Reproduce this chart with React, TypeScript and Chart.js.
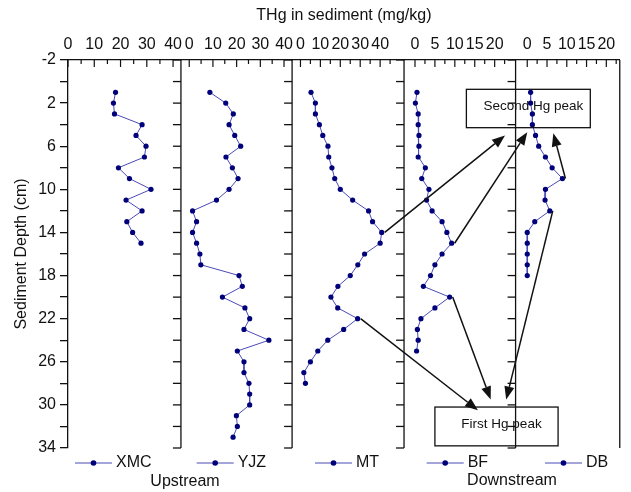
import React, { useEffect, useRef } from 'react';
import { Chart, registerables } from 'chart.js';

Chart.register(...registerables);

// ---------------- data (THg, mg/kg, vs sediment depth, cm) ----------------
const xmcDepth = [1, 2, 3, 4, 5, 6, 7, 8, 9, 10, 11, 12, 13, 14, 15];
const xmcValue = [18.1, 17.3, 17.7, 28.2, 25.9, 29.7, 29.1, 19.2, 23.4, 31.6, 22.1, 28.2, 22.4, 24.6, 27.8];

const yjzDepth = [1, 2, 3, 4, 5, 6, 7, 8, 9, 10, 11, 12, 13, 14, 15, 16, 17, 18, 19, 20, 21, 22, 23, 24, 25, 26, 27, 28, 29, 30, 31, 32, 33];
const yjzValue = [8.7, 15.4, 18.6, 16.8, 19.2, 21.7, 15.5, 18.2, 20.6, 16.8, 11.5, 1.4, 3.1, 1.4, 3.1, 4.5, 4.9, 21.0, 22.4, 14.0, 23.5, 25.5, 23.1, 33.6, 20.3, 23.1, 23.1, 25.2, 25.5, 25.5, 19.9, 20.3, 18.5];

const mtDepth = [1, 2, 3, 4, 5, 6, 7, 8, 9, 10, 11, 12, 13, 14, 15, 16, 17, 18, 19, 20, 21, 22, 23, 24, 25, 26, 27, 28];
const mtValue = [5.3, 7.5, 7.5, 9.5, 11.2, 13.8, 14.2, 15.8, 17.2, 20.0, 26.2, 34.2, 36.2, 40.8, 40.0, 32.2, 28.8, 25.0, 18.8, 15.3, 18.7, 28.7, 21.7, 13.7, 8.7, 5.0, 1.7, 2.5];

const bfDepth = [1, 2, 3, 4, 5, 6, 7, 8, 9, 10, 11, 12, 13, 14, 15, 16, 17, 18, 19, 20, 21, 22, 23, 24, 25];
const bfValue = [0.5, 0.1, 0.8, 0.8, 1.0, 1.0, 0.8, 2.6, 1.7, 3.5, 2.9, 4.3, 6.8, 8.0, 9.2, 6.8, 5.0, 3.9, 2.1, 8.7, 5.0, 1.5, 0.6, 0.8, 0.4];

const dbDepth = [1, 2, 3, 4, 5, 6, 7, 8, 9, 10, 11, 12, 13, 14, 15, 16, 17, 18];
const dbValue = [0.85, 0.85, 1.3, 1.3, 2.1, 2.9, 4.6, 6.3, 8.9, 4.6, 4.5, 5.7, 1.9, 0.0, 0.0, 0.0, 0.0, 0.0];

const siteNames = ['XMC', 'YJZ', 'MT', 'BF', 'DB'];
const siteDepths = [xmcDepth, yjzDepth, mtDepth, bfDepth, dbDepth];
const siteValues = [xmcValue, yjzValue, mtValue, bfValue, dbValue];

// ---------------- axes ----------------
const panelIds = ['x1', 'x2', 'x3', 'x4', 'x5'];
const panelMin = [0, -3.5, -4.2, -2.75, -2.95];
const panelMax = [43, 43.4, 52, 25.25, 23.4];
const panelWeight = [113.4, 111.6, 112.4, 112, 104.6];

const ticks40 = [0, 5, 10, 15, 20, 25, 30, 35, 40];
const labels40 = [0, 10, 20, 30, 40];
const ticks45 = [0, 5, 10, 15, 20, 25, 30, 35, 40, 45];
const ticks20 = [0, 2.5, 5, 7.5, 10, 12.5, 15, 17.5, 20, 22.5];
const labels20 = [0, 5, 10, 15, 20];
const panelTicks = [ticks40, ticks40, ticks45, ticks20, ticks20];
const panelLabels = [labels40, labels40, labels40, labels20, labels20];

const depthTicks = [-2, 0, 2, 4, 6, 8, 10, 12, 14, 16, 18, 20, 22, 24, 26, 28, 30, 32, 34];
const depthLabels = [-2, 2, 6, 10, 14, 18, 22, 26, 30, 34];

// ---------------- annotations (data units) ----------------
const peakBoxes = [
  { text: 'Second Hg peak', left: ['x4', 12.9], right: ['x5', 15.95], topDepth: 0.72, bottomDepth: 4.28 },
  { text: 'First Hg peak', left: ['x4', 5.0], right: ['x5', 7.8], topDepth: 30.2, bottomDepth: 33.8 },
];
const peakArrows = [
  { site: 2, depth: 14, toScale: 'x4', toValue: 22.6, toDepth: 5.0 },
  { site: 3, depth: 15, toScale: 'x5', toValue: 0.0, toDepth: 4.7 },
  { site: 4, depth: 9, toScale: 'x5', toValue: 6.6, toDepth: 4.8 },
  { site: 2, depth: 22, toScale: 'x4', toValue: 15.8, toDepth: 30.5 },
  { site: 3, depth: 20, toScale: 'x4', toValue: 19.0, toDepth: 29.5 },
  { site: 4, depth: 12, toScale: 'x4', toValue: 22.9, toDepth: 29.5 },
];

// ---------------- styles ----------------
const INK = '#111111';
const LINE = '#4a4ab8';
const DOT = '#00007a';
const FONT = '"Liberation Sans", Arial, Helvetica, sans-serif';
const legendStart = [75, 196.7, 315, 426.7, 545];
const legendY = 463;

Chart.defaults.font.family = FONT;
Chart.defaults.color = INK;

function drawArrow(ctx: CanvasRenderingContext2D, x0: number, y0: number, x1: number, y1: number) {
  const ang = Math.atan2(y1 - y0, x1 - x0);
  const headLen = 13;
  const headW = 5;
  const bx = x1 - headLen * Math.cos(ang);
  const by = y1 - headLen * Math.sin(ang);
  ctx.beginPath();
  ctx.moveTo(x0, y0);
  ctx.lineTo(bx, by);
  ctx.stroke();
  ctx.beginPath();
  ctx.moveTo(x1, y1);
  ctx.lineTo(bx + headW * Math.sin(ang), by - headW * Math.cos(ang));
  ctx.lineTo(bx - headW * Math.sin(ang), by + headW * Math.cos(ang));
  ctx.closePath();
  ctx.fill();
}

const panelPlugin = {
  id: 'panelDecor',
  afterDraw(chart: any) {
    const ctx: CanvasRenderingContext2D = chart.ctx;
    const { top, bottom } = chart.chartArea;
    const yS = chart.scales.y;
    const line = (a: number, b: number, c: number, d: number) => {
      ctx.beginPath();
      ctx.moveTo(a, b);
      ctx.lineTo(c, d);
      ctx.stroke();
    };
    ctx.save();

    // peak boxes
    ctx.strokeStyle = INK;
    ctx.fillStyle = INK;
    ctx.lineWidth = 1.3;
    peakBoxes.forEach((b) => {
      const x0 = chart.scales[b.left[0] as string].getPixelForValue(b.left[1]);
      const x1 = chart.scales[b.right[0] as string].getPixelForValue(b.right[1]);
      const y0 = yS.getPixelForValue(b.topDepth);
      const y1 = yS.getPixelForValue(b.bottomDepth);
      ctx.strokeRect(x0, y0, x1 - x0, y1 - y0);
      ctx.font = '13.5px ' + FONT;
      ctx.textAlign = 'center';
      ctx.textBaseline = 'middle';
      ctx.fillText(b.text, (x0 + x1) / 2 + 5, (y0 + y1) / 2 - 2.5);
    });

    // arrows
    ctx.lineWidth = 1.5;
    peakArrows.forEach((a) => {
      const idx = siteDepths[a.site].indexOf(a.depth);
      const fx = chart.scales[panelIds[a.site]].getPixelForValue(siteValues[a.site][idx]) + 3;
      const fy = yS.getPixelForValue(a.depth);
      const tx = chart.scales[a.toScale].getPixelForValue(a.toValue);
      const ty = yS.getPixelForValue(a.toDepth);
      drawArrow(ctx, fx, fy, tx, ty);
    });

    // inward tick marks on the top axes
    ctx.lineWidth = 1.2;
    panelIds.forEach((id, i) => {
      const s = chart.scales[id];
      s.ticks.forEach((t: any) => {
        const px = s.getPixelForValue(t.value);
        const major = panelLabels[i].includes(t.value);
        line(px, top, px, top + (major ? 7 : 4));
      });
    });

    // panel boundaries with outward depth ticks
    ctx.lineWidth = 1.3;
    panelIds.forEach((id, i) => {
      const s = chart.scales[id];
      if (i > 0) {
        line(s.left, top, s.left, bottom);
        yS.ticks.forEach((t: any) => {
          const py = yS.getPixelForValue(t.value);
          line(s.left - 8, py, s.left, py);
        });
      }
      if (i === panelIds.length - 1) line(s.right, top, s.right, bottom);
    });

    // legend
    ctx.font = '16px ' + FONT;
    ctx.textAlign = 'left';
    ctx.textBaseline = 'middle';
    chart.data.datasets.forEach((ds: any, i: number) => {
      const x0 = legendStart[i];
      ctx.strokeStyle = ds.borderColor;
      ctx.lineWidth = ds.borderWidth;
      line(x0, legendY, x0 + 37, legendY);
      ctx.fillStyle = ds.pointBackgroundColor;
      ctx.beginPath();
      ctx.arc(x0 + 18.5, legendY, 2.8, 0, Math.PI * 2);
      ctx.fill();
      ctx.fillStyle = INK;
      ctx.fillText(ds.label, x0 + 41, legendY);
    });
    ctx.textAlign = 'center';
    ctx.fillText('Upstream', 185, 482);
    ctx.fillText('Downstream', 512, 481);

    ctx.restore();
  },
};

function panelScale(i: number) {
  return {
    type: 'linear',
    position: 'top',
    stack: 'panels',
    stackWeight: panelWeight[i],
    weight: panelIds.length - i,
    min: panelMin[i],
    max: panelMax[i],
    afterBuildTicks: (s: any) => {
      s.ticks = panelTicks[i].map((v) => ({ value: v }));
    },
    afterFit: (s: any) => {
      s.height = 28.8;
    },
    grid: { display: false, drawTicks: false },
    border: { display: true, color: INK, width: 1.3 },
    ticks: {
      autoSkip: false,
      maxRotation: 0,
      minRotation: 0,
      padding: 6,
      color: INK,
      font: { size: 16 },
      callback: (v: number) => (panelLabels[i].includes(v) ? String(v) : ''),
    },
  };
}

export default function App() {
  const ref = useRef<HTMLCanvasElement>(null);

  useEffect(() => {
    if (!ref.current) return;
    const datasets = siteNames.map((name, i) => ({
      label: name,
      xAxisID: panelIds[i],
      yAxisID: 'y',
      data: siteDepths[i].map((d, k) => ({ x: siteValues[i][k], y: d })),
      borderColor: LINE,
      borderWidth: 1,
      pointRadius: 2.6,
      pointBackgroundColor: DOT,
      pointBorderColor: DOT,
      pointBorderWidth: 0,
      tension: 0,
      fill: false,
    }));
    const scales: any = {};
    panelIds.forEach((id, i) => {
      scales[id] = panelScale(i);
    });
    scales.y = {
      type: 'linear',
      position: 'left',
      reverse: true,
      min: -2,
      max: 34,
      afterBuildTicks: (s: any) => {
        s.ticks = depthTicks.map((v) => ({ value: v }));
      },
      afterFit: (s: any) => {
        s.width = 68;
      },
      grid: { display: true, drawOnChartArea: false, drawTicks: true, tickLength: 8, color: INK, lineWidth: 1.3 },
      border: { display: true, color: INK, width: 1.3 },
      ticks: {
        autoSkip: false,
        padding: 4,
        color: INK,
        font: { size: 16 },
        callback: (v: number) => (depthLabels.includes(v) ? String(v) : ''),
      },
      title: {
        display: true,
        text: 'Sediment Depth (cm)',
        color: INK,
        font: { size: 16 },
        padding: { top: 12, bottom: 0 },
      },
    };

    const chart = new Chart(ref.current, {
      type: 'line',
      data: { datasets } as any,
      options: {
        indexAxis: 'y',
        responsive: false,
        animation: false,
        layout: { padding: { left: 0, right: 9, top: 0, bottom: 44 } },
        scales,
        plugins: {
          legend: { display: false },
          tooltip: { enabled: false },
          title: {
            display: true,
            text: 'THg in sediment (mg/kg)',
            fullSize: false,
            color: INK,
            font: { size: 16, weight: 'normal' },
            padding: { top: 6, bottom: 6 },
          },
        },
      } as any,
      plugins: [panelPlugin],
    });
    return () => chart.destroy();
  }, []);

  return (
    <div style={{ position: 'fixed', left: 0, top: 0, width: 631, height: 492, background: '#fff' }}>
      <canvas ref={ref} width={631} height={492} style={{ display: 'block' }} />
    </div>
  );
}
